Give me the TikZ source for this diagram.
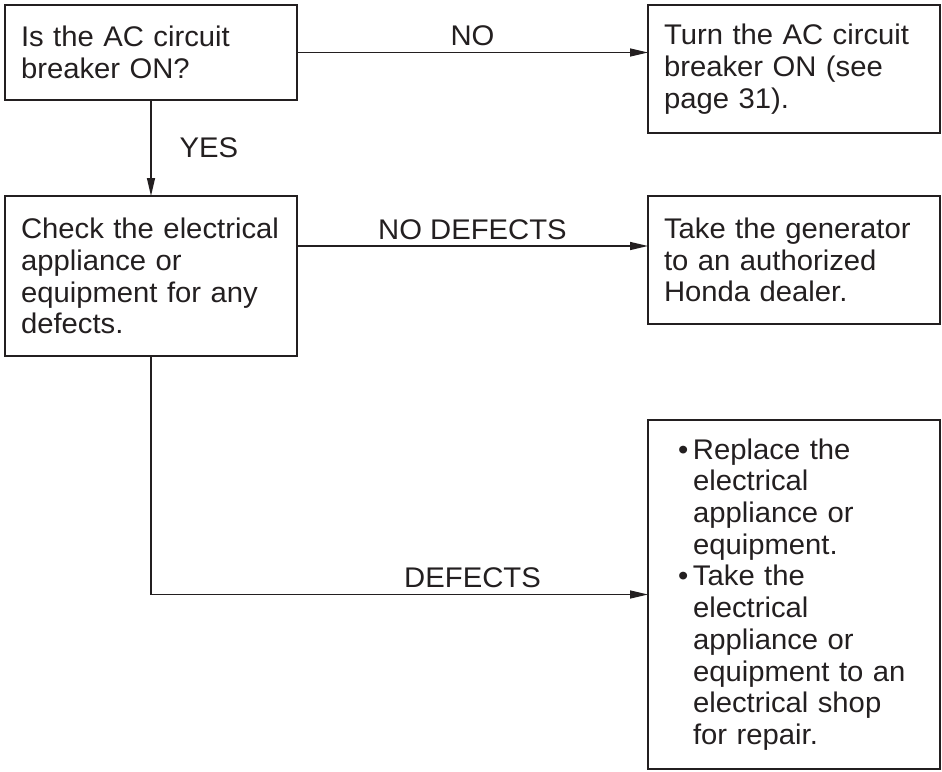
\documentclass[tikz,border=0pt]{standalone}
\usepackage{fontspec}
\setmainfont{Liberation Sans}[FakeStretch=1.03]
\usepackage{xcolor}
\definecolor{manual-ink}{HTML}{231F20}
\usetikzlibrary{arrows.meta, positioning}

\begin{document}
\begin{tikzpicture}[
            every node/.style={font=\fontsize{14.2pt}{15.85pt}\selectfont, text=manual-ink},
            stepbox/.style={rectangle, draw=manual-ink, line width=0.9pt, text width=130pt, inner xsep=8pt, inner ysep=0pt, outer sep=0pt, align=left, anchor=north west},
            listbox/.style={stepbox, text width=116pt, inner xsep=15pt},
            answer/.style={inner sep=3pt},
            arrow/.style={-{Triangle[length=9pt, width=4pt]}, draw=manual-ink, line width=0.7pt}
        ]

        \useasboundingbox (0,0) rectangle (471pt,-385.5pt);

        % --- 1. BREAKER QUESTION ---
        \node[stepbox, minimum height=47.5pt] at (2.5pt,-2.5pt) (q1) {
            Is the AC circuit\\
            breaker ON?
        };

        \node[stepbox, minimum height=64pt, right=175.5pt of q1.north east, anchor=north west] (turnon) {
            Turn the AC circuit\\
            breaker ON (see\\
            page 31).
        };

        % --- 2. APPLIANCE CHECK ---
        \node[stepbox, minimum height=80pt, below=48pt of q1.south west, anchor=north west] (check) {
            Check the electrical\\
            appliance or\\
            equipment for any\\
            defects.
        };

        \node[stepbox, minimum height=64pt, right=175.5pt of check.north east, anchor=north west] (dealer) {
            Take the generator\\
            to an authorized\\
            Honda dealer.
        };

        % --- 3. DEFECT REMEDY ---
        \node[listbox, minimum height=174.5pt, below=48pt of dealer.south west, anchor=north west] (fix) {
            \makebox[7.5pt][l]{\textbullet}Replace the\\
            \hspace*{7.5pt}electrical\\
            \hspace*{7.5pt}appliance or\\
            \hspace*{7.5pt}equipment.\\
            \makebox[7.5pt][l]{\textbullet}Take the\\
            \hspace*{7.5pt}electrical\\
            \hspace*{7.5pt}appliance or\\
            \hspace*{7.5pt}equipment to an\\
            \hspace*{7.5pt}electrical shop\\
            \hspace*{7.5pt}for repair.
        };

        % --- ROUTING ARROWS ---
        \coordinate (nodef) at ([yshift=15pt]check.east);

        \draw[arrow] (q1.east) -- (q1.east -| turnon.west) node[answer, midway, above] (l_no) {NO};
        \draw[arrow] (q1.south) -- (check.north) node[answer, midway, right=11pt] (l_yes) {YES};
        \draw[arrow] (nodef) -- (nodef -| dealer.west) node[answer, midway, above] (l_nodef) {NO DEFECTS};
        \draw[arrow] (check.south) |- (fix.west);
        \path (check.east |- fix.west) -- (fix.west) node[answer, midway, above] (l_def) {DEFECTS};

        \end{tikzpicture}
\end{document}
